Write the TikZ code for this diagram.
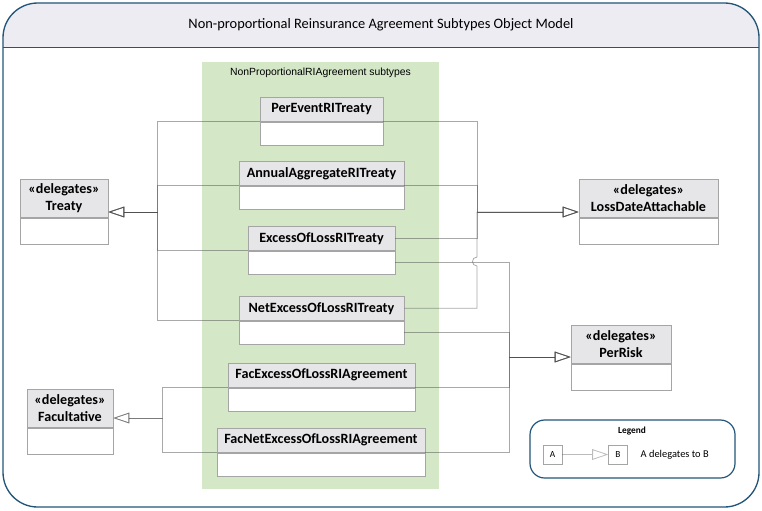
\documentclass[tikz,border=0pt]{standalone}
\usepackage{fontspec}
\setmainfont{Carlito}
\newfontfamily\arialfont{Liberation Sans}
\usepackage{tikz}
\usetikzlibrary{positioning,arrows.meta}
\definecolor{frameblue}{RGB}{35,85,120}
\definecolor{bandgrey}{RGB}{236,236,242}
\definecolor{subgreen}{RGB}{212,232,200}
\definecolor{headgrey}{RGB}{230,230,233}
\definecolor{boxline}{RGB}{165,165,165}

\begin{document}
\begin{tikzpicture}[
  x=0.75pt, y=-0.75pt,
  classhead/.style={draw=boxline, fill=headgrey, anchor=north, inner sep=0pt, minimum height=18pt, font=\bfseries\fontsize{10.6}{12.75}\selectfont},
  classbody/.style={draw=boxline, fill=white, inner sep=0pt, minimum height=17.25pt},
  delhead/.style={classhead, align=center, minimum height=28.5pt},
  delbody/.style={classbody, minimum height=19.5pt},
  deleg/.style={draw=black!75, draw opacity=.45, line width=.6pt, -{Triangle[open, length=12pt, width=8pt]}},
  legbox/.style={draw=boxline, minimum size=14.25pt, inner sep=0pt, font=\fontsize{7}{8}\selectfont}
]
\useasboundingbox (0,0) rectangle (762,510);

% frame and title band
\begin{scope}
  \clip (0,0) rectangle (762,47);
  \fill[bandgrey, rounded corners=26pt] (3,3) rectangle (759,507);
\end{scope}
\draw[frameblue, line width=.6pt] (3,47) -- (759,47);
\draw[frameblue, line width=1pt, rounded corners=26pt] (3,3) rectangle (759,507);
\node (title) at (381,25) {\fontsize{10.8}{13}\selectfont Non-proportional Reinsurance Agreement Subtypes Object Model};

\node[fill=subgreen, anchor=north, minimum width=177.75pt, minimum height=320.25pt] (group) at (320.5,62) {};
\node[font=\arialfont\fontsize{7.8}{9}\selectfont] (grouplabel) at (320.5,73) {NonProportionalRIAgreement subtypes};

\node[classhead, minimum width=92.25pt] (perevent) at (321.5,97) {PerEventRITreaty};
\node[classbody, minimum width=92.25pt, below=0pt of perevent] (perevent-b) {};
\node[classhead, minimum width=123.75pt] (annual) at (321.5,161) {AnnualAggregateRITreaty};
\node[classbody, minimum width=123.75pt, below=0pt of annual] (annual-b) {};
\node[classhead, minimum width=110.25pt] (exloss) at (321.5,226) {ExcessOfLossRITreaty};
\node[classbody, minimum width=110.25pt, below=0pt of exloss] (exloss-b) {};
\node[classhead, minimum width=123.75pt] (netxs) at (321.5,296) {NetExcessOfLossRITreaty};
\node[classbody, minimum width=123.75pt, below=0pt of netxs] (netxs-b) {};
\node[classhead, minimum width=140.25pt] (facxs) at (321.5,363) {FacExcessOfLossRIAgreement};
\node[classbody, minimum width=140.25pt, below=0pt of facxs] (facxs-b) {};
\node[classhead, minimum width=156pt] (facnet) at (321,428) {FacNetExcessOfLossRIAgreement};
\node[classbody, minimum width=156pt, below=0pt of facnet] (facnet-b) {};

\node[delhead, minimum width=66pt] (treaty) at (64,179) {«delegates»\\Treaty};
\node[delbody, minimum width=66pt, below=0pt of treaty] (treaty-b) {};
\node[delhead, minimum width=104.25pt] (lossdate) at (648.5,179) {«delegates»\\LossDateAttachable};
\node[delbody, minimum width=104.25pt, below=0pt of lossdate] (lossdate-b) {};
\node[delhead, minimum width=75pt] (perrisk) at (621,325) {«delegates»\\PerRisk};
\node[delbody, minimum width=75pt, below=0pt of perrisk] (perrisk-b) {};
\node[delhead, minimum width=64.5pt] (facult) at (70,389) {«delegates»\\Facultative};
\node[delbody, minimum width=64.5pt, below=0pt of facult] (facult-b) {};

\coordinate (tbus) at (157,212);
\coordinate (lbus) at (477,212);
\coordinate (rbus) at (509,357);
\coordinate (fbus) at (162,418);
\coordinate (hopa) at (477,266);
\coordinate (hopb) at (477,257);

\draw[deleg] (perevent.south west) -| (tbus) -- (tbus -| treaty.east);
\draw[deleg] (annual.south west) -| (tbus) -- (tbus -| treaty.east);
\draw[deleg] (exloss.south west) -| (tbus) -- (tbus -| treaty.east);
\draw[deleg] (netxs.south west) -| (tbus) -- (tbus -| treaty.east);

\draw[deleg] (perevent.south east) -| (lbus) -- (lbus -| lossdate.west);
\draw[deleg] (annual.south east) -| (lbus) -- (lbus -| lossdate.west);
\draw[deleg] (exloss.east) -| (lbus) -- (lbus -| lossdate.west);
\draw[deleg] (netxs.east) -| (hopa) .. controls +(-6,0) and +(-6,0) .. (hopb) -- (lbus) -- (lbus -| lossdate.west);

\draw[deleg] (exloss-b.east) -| (rbus) -- (rbus -| perrisk.west);
\draw[deleg] (netxs-b.east) -| (rbus) -- (rbus -| perrisk.west);
\draw[deleg] (facxs.south east) -| (rbus) -- (rbus -| perrisk.west);
\draw[deleg] (facnet.south east) -| (rbus) -- (rbus -| perrisk.west);

\draw[deleg] (facxs.south west) -| (fbus) -- (fbus -| facult.east);
\draw[deleg] (facnet.south west) -| (fbus) -- (fbus -| facult.east);

% legend
\node[draw=frameblue, line width=.9pt, rounded corners=11pt, minimum width=153.75pt, minimum height=43.5pt] (legend) at (632.5,449) {};
\node[font=\bfseries\fontsize{7}{8}\selectfont] (legendtitle) at (632,431) {Legend};
\node[legbox] (la) at (552.5,454.5) {A};
\node[legbox] (lb) at (618,454.5) {B};
\draw[deleg, draw opacity=.35] (la) -- (lb);
\node[anchor=west, font=\fontsize{7.8}{9}\selectfont] (legendtext) at (636,454.5) {A delegates to B};
\end{tikzpicture}
\end{document}
